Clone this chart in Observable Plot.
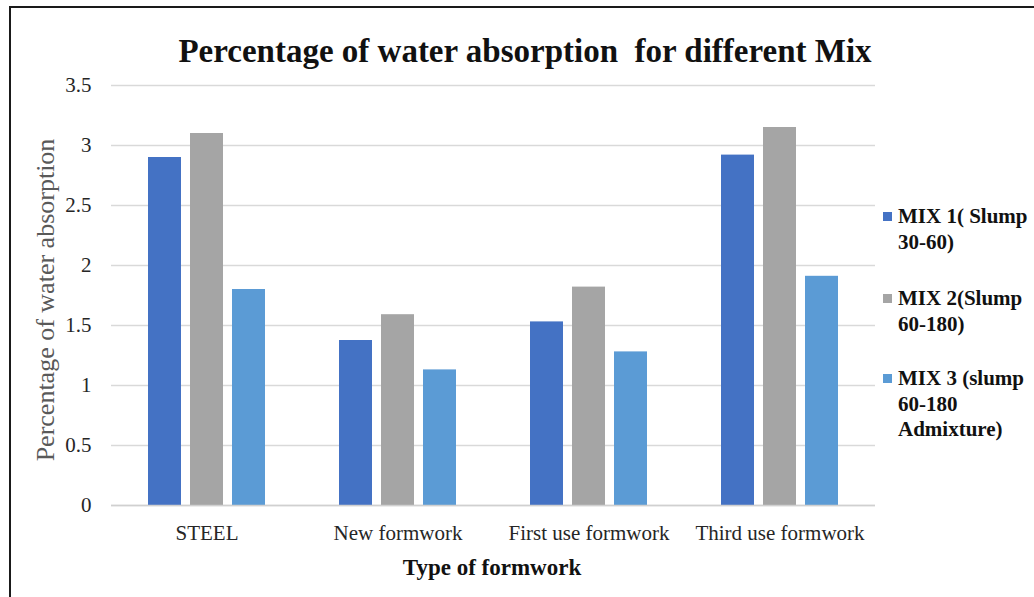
<!DOCTYPE html>
<html>
<head>
<meta charset="utf-8">
<script src="https://cdn.jsdelivr.net/npm/d3@7"></script>
<script src="https://cdn.jsdelivr.net/npm/@observablehq/plot@0.6"></script>
<style>
  html, body { margin: 0; padding: 0; background: #fff; }
  body { width: 1034px; height: 597px; position: relative; overflow: hidden; font-family: "Liberation Serif", "Times New Roman", serif; }
  #frame { position: absolute; left: 9px; top: 6px; width: 1040px; height: 589px;
           border-left: 2px solid #1a1a1a; border-top: 2px solid #1a1a1a; border-bottom: 1px solid #e0e0e0; }
  #chart { position: absolute; left: 0; top: 0; }
  #title { position: absolute; left: 525px; top: 33px; transform: translateX(-50%); font-weight: bold;
           font-size: 33px; line-height: 37px; color: #111; white-space: nowrap; }
  #ylabel { position: absolute; left: 46px; top: 300px; transform: translate(-50%, -50%) rotate(-90deg);
            font-size: 26px; line-height: 30px; color: #595959; white-space: nowrap; }
  #xlabel { position: absolute; left: 492px; top: 555px; transform: translateX(-50%);
            font-size: 23px; line-height: 26px; font-weight: bold; color: #111; white-space: nowrap; }
  .legend { position: absolute; left: 883px; font-size: 21px; font-weight: bold; color: #111; line-height: 25.5px; }
  .legend .sw { position: absolute; left: 0; top: 8px; width: 9px; height: 9px; }
  .legend .txt { position: absolute; left: 15px; top: 0; white-space: nowrap; }
</style>
</head>
<body>
<div id="frame"></div>
<div id="chart"></div>
<div id="title">Percentage of water absorption&nbsp; for different Mix</div>
<div id="ylabel">Percentage of water absorption</div>
<div id="xlabel">Type of formwork</div>
<div id="legend"></div>
<script>
// Formwork types along the horizontal axis
const categories = ["STEEL", "New formwork", "First use formwork", "Third use formwork"];
// Concrete mixes (legend entries, one line per array item)
const seriesNames = ["MIX 1( Slump 30-60)", "MIX 2(Slump 60-180)", "MIX 3 (slump 60-180 Admixture)"];
const seriesLines = [["MIX 1( Slump", "30-60)"], ["MIX 2(Slump", "60-180)"], ["MIX 3 (slump", "60-180", "Admixture)"]];
const seriesColors = ["#4472C4", "#A5A5A5", "#5B9BD5"];
// Water absorption (%) per formwork type
const mix1 = [2.90, 1.375, 1.53, 2.92];
const mix2 = [3.10, 1.59, 1.82, 3.15];
const mix3 = [1.80, 1.13, 1.28, 1.91];
const yTicks = [0, 0.5, 1, 1.5, 2, 2.5, 3, 3.5];

const values = [mix1, mix2, mix3];
const rows = [];
categories.forEach((c, i) => {
  seriesNames.forEach((s, j) => rows.push({category: c, series: s, value: values[j][i]}));
});

const chart = Plot.plot({
  width: 1034,
  height: 597,
  marginLeft: 110,
  marginRight: 159,
  marginTop: 85,
  marginBottom: 92,
  style: {fontFamily: "'Liberation Serif', 'Times New Roman', serif", fontSize: "21px", color: "#262626", background: "transparent"},
  fx: {domain: categories, padding: 0, label: null, tickSize: 0, tickPadding: 20, axis: "bottom"},
  x: {domain: seriesNames, axis: null, paddingInner: 0.22, paddingOuter: 0.84},
  y: {domain: [0, 3.5], ticks: yTicks, tickFormat: d3.format("~g"), label: null, tickSize: 0, tickPadding: 20},
  color: {domain: seriesNames, range: seriesColors},
  marks: [
    Plot.gridY(yTicks, {stroke: "#d9d9d9", strokeOpacity: 1, strokeWidth: 1.5, facet: "exclude"}),
    Plot.barY(rows, {fx: "category", x: "series", y: "value", fill: "series"}),
    Plot.ruleY([0], {stroke: "#d0d0d0", strokeWidth: 1.5})
  ]
});
document.getElementById("chart").appendChild(chart);

// Legend: colour swatch plus wrapped series name
const legendTops = [204, 286, 366];
const legend = document.getElementById("legend");
seriesLines.forEach((lines, j) => {
  const item = document.createElement("div");
  item.className = "legend";
  item.style.top = legendTops[j] + "px";
  item.innerHTML = `<div class="sw" style="background:${seriesColors[j]}"></div><div class="txt">${lines.join("<br>")}</div>`;
  legend.appendChild(item);
});
</script>
</body>
</html>
